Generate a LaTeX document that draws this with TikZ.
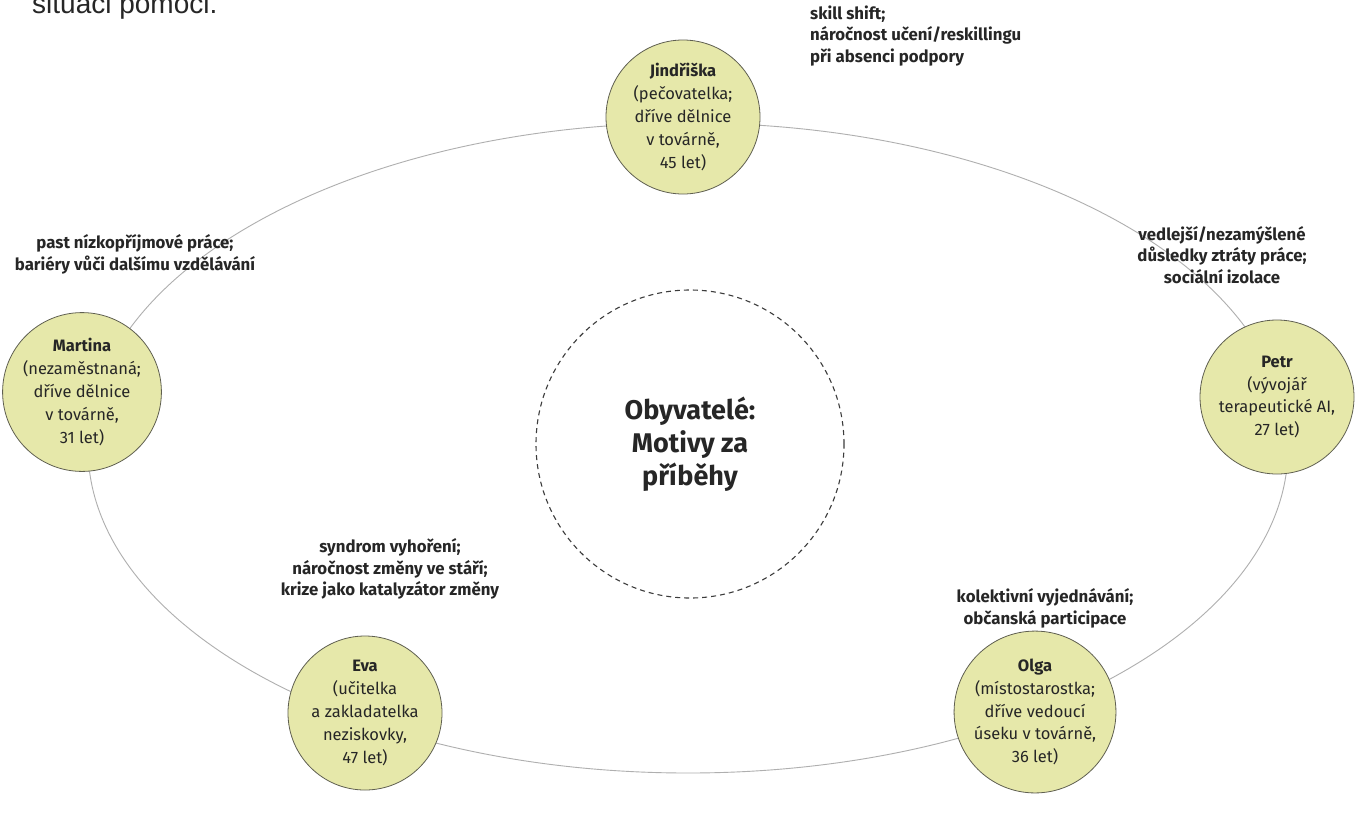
\documentclass[tikz,border=0pt]{standalone}
\usepackage{fontspec}
\setmainfont{Fira Sans}
\newfontfamily\headfont{Liberation Sans}
\definecolor{circfill}{RGB}{230,232,170}
\definecolor{circedge}{RGB}{95,95,80}
\definecolor{ringcol}{RGB}{175,175,175}
\definecolor{txt}{RGB}{38,38,38}
\definecolor{hubedge}{RGB}{60,60,60}
\begin{document}
\begin{tikzpicture}[x=1pt,y=-1pt,
  person/.style={circle, draw=circedge, line width=0.8pt, fill=circfill,
    minimum size=154pt, inner sep=0pt, align=center, text=txt,
    font=\fontsize{16.5pt}{22.8pt}\selectfont},
  motive/.style={inner sep=0pt, text=txt,
    font=\fontsize{16.8pt}{21.8pt}\selectfont\bfseries},
  hub/.style={circle, draw=hubedge, line width=1.1pt, dash pattern=on 5pt off 4pt,
    minimum size=308pt, inner sep=0pt, align=center, text=txt,
    font=\fontsize{27pt}{33pt}\selectfont\bfseries},
  ring/.style={draw=ringcol, line width=0.9pt}]
\useasboundingbox (0,0) rectangle (1372,825);
\fill[white] (0,0) rectangle (1372,825);

% cut-off text at top
\node[anchor=base west, inner sep=0pt, text=txt,
  font=\headfont\fontsize{28pt}{30pt}\selectfont] (hdr) at (32,13) {situaci pomoci.};

% ring
\coordinate (ringc) at (688,448);
\draw[ring] (ringc) ellipse [x radius=600pt, y radius=325pt];

% hub
\node[hub] (hub) at (690,444) {Obyvatelé:\\Motivy za\\příběhy};

% persons
\node[person] (jin) at (683,117) {\textbf{Jindřiška}\\(pečovatelka;\\dříve dělnice\\v továrně,\\45 let)};
\node[person] (mar) at (82,392) {\textbf{Martina}\\(nezaměstnaná;\\dříve dělnice\\v továrně,\\31 let)};
\node[person] (pet) at (1277,397) {\textbf{Petr}\\(vývojář\\terapeutické AI,\\27 let)};
\node[person] (eva) at (365,713) {\textbf{Eva}\\(učitelka\\a zakladatelka\\neziskovky,\\47 let)};
\node[person] (olg) at (1035,712) {\textbf{Olga}\\(místostarostka;\\dříve vedoucí\\úseku v továrně,\\36 let)};

% motives
\node[motive, anchor=west, align=left] (mjin) at (810,36) {skill shift;\\náročnost učení/reskillingu\\při absenci podpory};
\node[motive, align=center] (mpet) at (1222,255) {vedlejší/nezamýšlené\\důsledky ztráty práce;\\sociální izolace};
\node[motive, align=center] (mmar) at (135,254) {past nízkopříjmové práce;\\bariéry vůči dalšímu vzdělávání};
\node[motive, align=center] (meva) at (390,569) {syndrom vyhoření;\\náročnost změny ve stáří;\\krize jako katalyzátor změny};
\node[motive, align=center] (molg) at (1045,608) {kolektivní vyjednávání;\\občanská participace};
\end{tikzpicture}
\end{document}
